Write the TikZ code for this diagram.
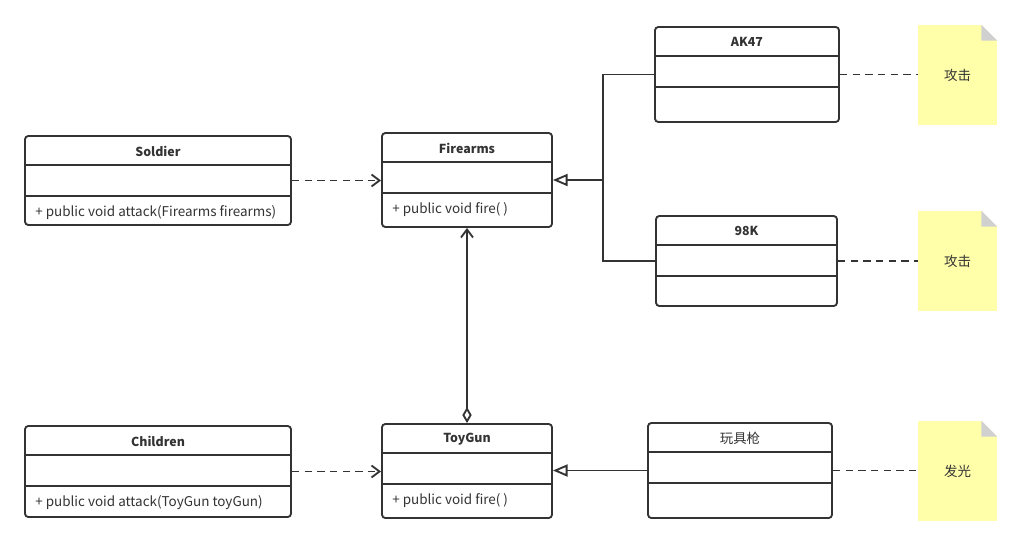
\documentclass[tikz,border=0pt]{standalone}
\usepackage{fontspec}
\setmainfont{Noto Sans CJK SC}
\newfontfamily\cjk{Noto Sans CJK SC}
\usetikzlibrary{arrows.meta}
\definecolor{umlline}{RGB}{51,51,51}
\definecolor{notefill}{RGB}{255,255,170}
\definecolor{notefold}{RGB}{208,208,208}

% class box: name, x1, y1, x2, y2, title, method
\newcommand{\umlclass}[7]{%
  \node[classbox, minimum width={(#4-#2)*0.75pt}, minimum height={(#5-#3)*0.75pt}]
    (#1) at ({(#2+#4)/2},{(#3+#5)/2}) {};
  \draw[divider] ([yshift=-22.5pt]#1.north west) -- ([yshift=-22.5pt]#1.north east);
  \draw[divider] ([yshift=-46pt]#1.north west) -- ([yshift=-46pt]#1.north east);
  \node[classtitle] (#1-title) at ([yshift=-12pt]#1.north) {#6};
  \node[classmethod] (#1-method) at ([xshift=8.25pt,yshift=-58.4pt]#1.north west) {#7};
}
% note: name, center x, center y, text
\newcommand{\umlnote}[4]{%
  \node[notebox] (#1) at (#2,#3) {\cjk #4};
  \fill[white] ([xshift=-12pt]#1.north east) -- (#1.north east) -- ([yshift=-12pt]#1.north east) -- cycle;
  \fill[notefold] ([xshift=-12pt]#1.north east) -- ([xshift=-12pt,yshift=-12pt]#1.north east) -- ([yshift=-12pt]#1.north east) -- cycle;
}

\begin{document}
\begin{tikzpicture}[x=0.75pt,y=-0.75pt,
    every node/.style={text=umlline, font=\fontsize{10.1}{12}\selectfont},
    classbox/.style={draw=umlline, line width=1.4pt, rounded corners=2.5pt, fill=white, inner sep=0pt},
    divider/.style={draw=umlline, line width=1.4pt},
    classtitle/.style={font=\fontsize{9.3}{11}\selectfont\bfseries},
    classmethod/.style={anchor=west, inner sep=0pt},
    notebox/.style={fill=notefill, minimum width=59.5pt, minimum height=75pt, inner sep=0pt},
    link/.style={draw=umlline, line width=1.4pt},
    dep/.style={link, dash pattern=on 5.5pt off 4pt, -{Straight Barb[length=6pt,width=9pt]}},
    gen/.style={link, -{Triangle[open,fill=white,length=11pt,width=9pt]}},
    agg/.style={link, {Diamond[open,fill=white,length=12pt,width=7pt]}-{Straight Barb[length=6pt,width=9pt]}},
    noteline/.style={link, dash pattern=on 5.5pt off 4pt}]
  \useasboundingbox (0,0) rectangle (1022,546);

  % classes
  \umlclass{soldier}{25}{136}{291}{225}{Soldier}{+ public void attack(Firearms firearms)}
  \umlclass{firearms}{382}{133}{552}{227}{Firearms}{+ public void fire( )}
  \umlclass{ak47}{655}{27}{839}{122}{AK47}{}
  \umlclass{k98}{656}{216}{837}{306}{98K}{}
  \umlclass{children}{25}{426}{291}{517}{Children}{+ public void attack(ToyGun toyGun)}
  \umlclass{toygun}{382}{424}{552}{518}{ToyGun}{+ public void fire( )}
  \umlclass{wanju}{648}{423}{832}{518}{\mdseries\fontsize{10.1}{12}\selectfont 玩具枪}{}

  % notes
  \umlnote{ak47-note}{957.5}{75}{攻击}
  \umlnote{k98-note}{957.5}{261}{攻击}
  \umlnote{wanju-note}{957.5}{471}{发光}

  % dependencies
  \draw[dep] (soldier.east) -- (soldier.east -| firearms.west);
  \draw[dep] (children.east) -- (children.east -| toygun.west);

  % generalization
  \coordinate (branch) at (603,180);
  \draw[link] (ak47.west) -| (branch);
  \draw[link] (k98.west) -| (branch);
  \draw[gen] (branch) -- (firearms.east);
  \draw[gen] (wanju.west) -- (wanju.west -| toygun.east);

  % aggregation
  \draw[agg] (toygun.north) -- (firearms.south);

  % note links
  \draw[noteline] (ak47.east) -- (ak47.east -| ak47-note.west);
  \draw[noteline] (k98.east) -- (k98.east -| k98-note.west);
  \draw[noteline] (wanju.east) -- (wanju.east -| wanju-note.west);
\end{tikzpicture}
\end{document}
